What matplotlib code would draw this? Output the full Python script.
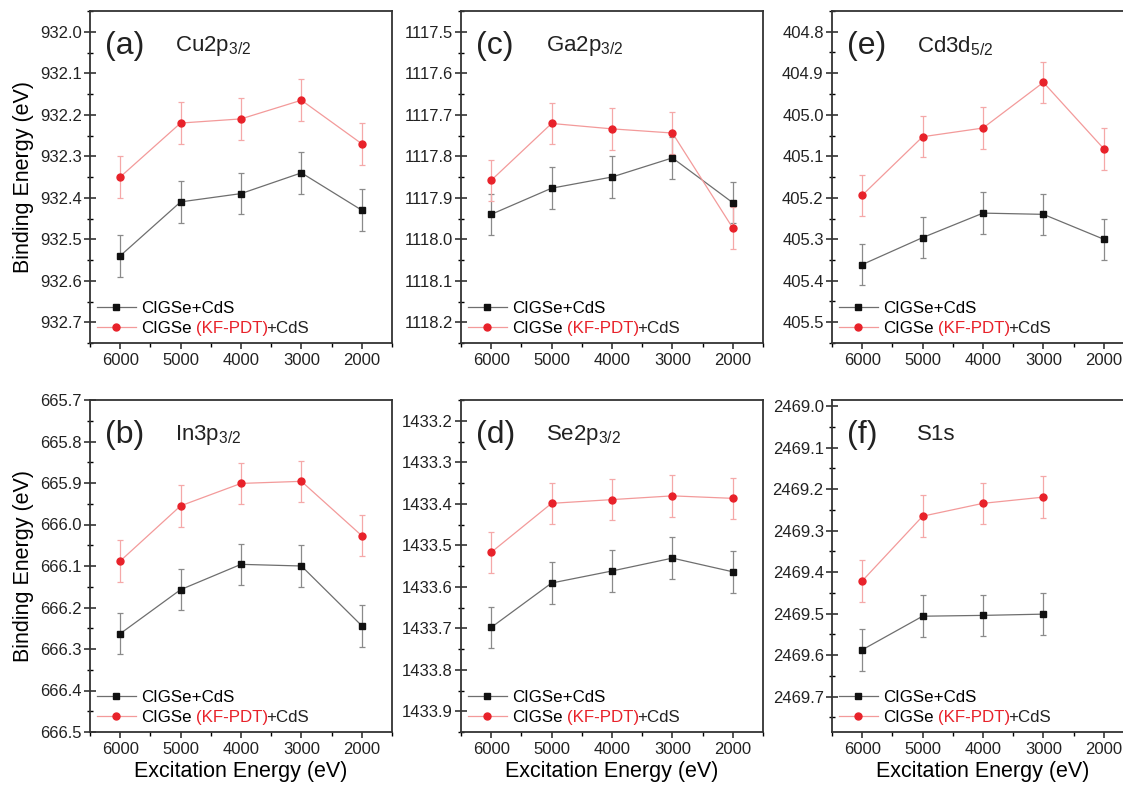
import matplotlib
matplotlib.use("Agg")
import matplotlib.pyplot as plt
from matplotlib.ticker import MultipleLocator

plt.rcParams['font.family'] = ['Liberation Sans', 'DejaVu Sans']
plt.rcParams['mathtext.fontset'] = 'custom'
plt.rcParams['mathtext.rm'] = 'Liberation Sans'

# excitation energies (eV)
x_energy = [6000, 5000, 4000, 3000, 2000]
x_energy_s = [6000, 5000, 4000, 3000]

# binding energies (eV)
cu_ref = [932.54, 932.41, 932.39, 932.34, 932.43]
cu_kf = [932.35, 932.22, 932.21, 932.165, 932.27]
in_ref = [666.263, 666.157, 666.096, 666.10, 666.244]
in_kf = [666.088, 665.955, 665.901, 665.896, 666.027]
ga_ref = [1117.94, 1117.877, 1117.85, 1117.804, 1117.912]
ga_kf = [1117.858, 1117.721, 1117.734, 1117.744, 1117.973]
se_ref = [1433.698, 1433.591, 1433.562, 1433.531, 1433.564]
se_kf = [1433.517, 1433.399, 1433.39, 1433.381, 1433.387]
cd_ref = [405.361, 405.296, 405.237, 405.24, 405.30]
cd_kf = [405.194, 405.053, 405.032, 404.922, 405.082]
s_ref = [2469.587, 2469.506, 2469.504, 2469.501]
s_kf = [2469.421, 2469.265, 2469.234, 2469.219]
err = 0.05

panels = [
    # tag, core level, x, ref, kf, (ymin, ymax)
    ('(a)', r'Cu2p$_{3/2}$', x_energy, cu_ref, cu_kf, (931.95, 932.75)),
    ('(b)', r'In3p$_{3/2}$', x_energy, in_ref, in_kf, (665.70, 666.50)),
    ('(c)', r'Ga2p$_{3/2}$', x_energy, ga_ref, ga_kf, (1117.45, 1118.25)),
    ('(d)', r'Se2p$_{3/2}$', x_energy, se_ref, se_kf, (1433.15, 1433.95)),
    ('(e)', r'Cd3d$_{5/2}$', x_energy, cd_ref, cd_kf, (404.75, 405.55)),
    ('(f)', 'S1s', x_energy_s, s_ref, s_kf, (2468.985, 2469.785)),
]

W, H = 1123, 789
fig = plt.figure(figsize=(W / 100, H / 100), dpi=100)

lefts = [90, 461, 832]
tops = [11, 400]
aw, ah = 302, 332

for i, (tag, level, xs, ref, kf, ylim) in enumerate(panels):
    col, row = i // 2, i % 2
    l, t = lefts[col], tops[row]
    ax = fig.add_axes([l / W, 1 - (t + ah) / H, aw / W, ah / H])

    eb1 = ax.errorbar(xs, ref, yerr=err, color='#6e6e6e', lw=0.9, marker='s', ms=4.5,
                      mfc='#111111', mec='#111111', ecolor='#8a8a8a', elinewidth=0.9,
                      capsize=2.5, capthick=0.9)
    eb2 = ax.errorbar(xs, kf, yerr=err, color='#f39a9a', lw=0.9, marker='o', ms=5,
                      mfc='#e8222a', mec='#e8222a', ecolor='#f5a8a8', elinewidth=0.9,
                      capsize=2.5, capthick=0.9)

    ax.set_xlim(6500, 1500)
    ax.set_ylim(ylim[1], ylim[0])
    ax.xaxis.set_major_locator(MultipleLocator(1000))
    ax.xaxis.set_minor_locator(MultipleLocator(500))
    ax.yaxis.set_major_locator(MultipleLocator(0.1))
    ax.yaxis.set_minor_locator(MultipleLocator(0.05))
    ax.yaxis.set_major_formatter(plt.FormatStrFormatter('%.1f'))

    ax.tick_params(axis='y', which='major', direction='inout', length=8, width=1.1,
                   labelsize=12, pad=2, colors='#222222')
    ax.tick_params(axis='y', which='minor', direction='inout', length=5, width=1.0)
    ax.tick_params(axis='x', which='major', direction='out', length=4, width=1.1,
                   labelsize=12, pad=3, colors='#222222')
    ax.tick_params(axis='x', which='minor', direction='out', length=3, width=1.0)
    for sp in ax.spines.values():
        sp.set_linewidth(1.3)
        sp.set_color('#333333')

    ax.text(0.05, 0.895, tag, transform=ax.transAxes, fontsize=23, va='center',
            ha='left', color='#222222')
    ax.text(0.28, 0.895, level, transform=ax.transAxes, fontsize=16, va='center',
            ha='left', color='#222222')

    leg = ax.legend([eb1[0], eb2[0]], ['CIGSe+CdS', 'CIGSe'], loc='lower left',
                    frameon=False, fontsize=12.2, handlelength=2.3,
                    handletextpad=0.3, labelspacing=0.32, borderaxespad=0.1,
                    borderpad=0.3)
    t2 = leg.get_texts()[1]
    a1 = ax.annotate('(KF-PDT)', xy=(1, 0), xycoords=t2, xytext=(3.5, 0),
                     textcoords='offset points', fontsize=12.2, color='#e8222a',
                     va='bottom', ha='left', zorder=10)
    ax.annotate('+CdS', xy=(1, 0), xycoords=a1, xytext=(-1.5, 0),
                textcoords='offset points', fontsize=12.2, color='#222222',
                va='bottom', ha='left', zorder=11)

    if col == 0:
        ax.set_ylabel('Binding Energy (eV)', fontsize=15.5, labelpad=4)
    if row == 1:
        ax.set_xlabel('Excitation Energy (eV)', fontsize=15.5, labelpad=3)

fig.savefig('out.png', dpi=100)
